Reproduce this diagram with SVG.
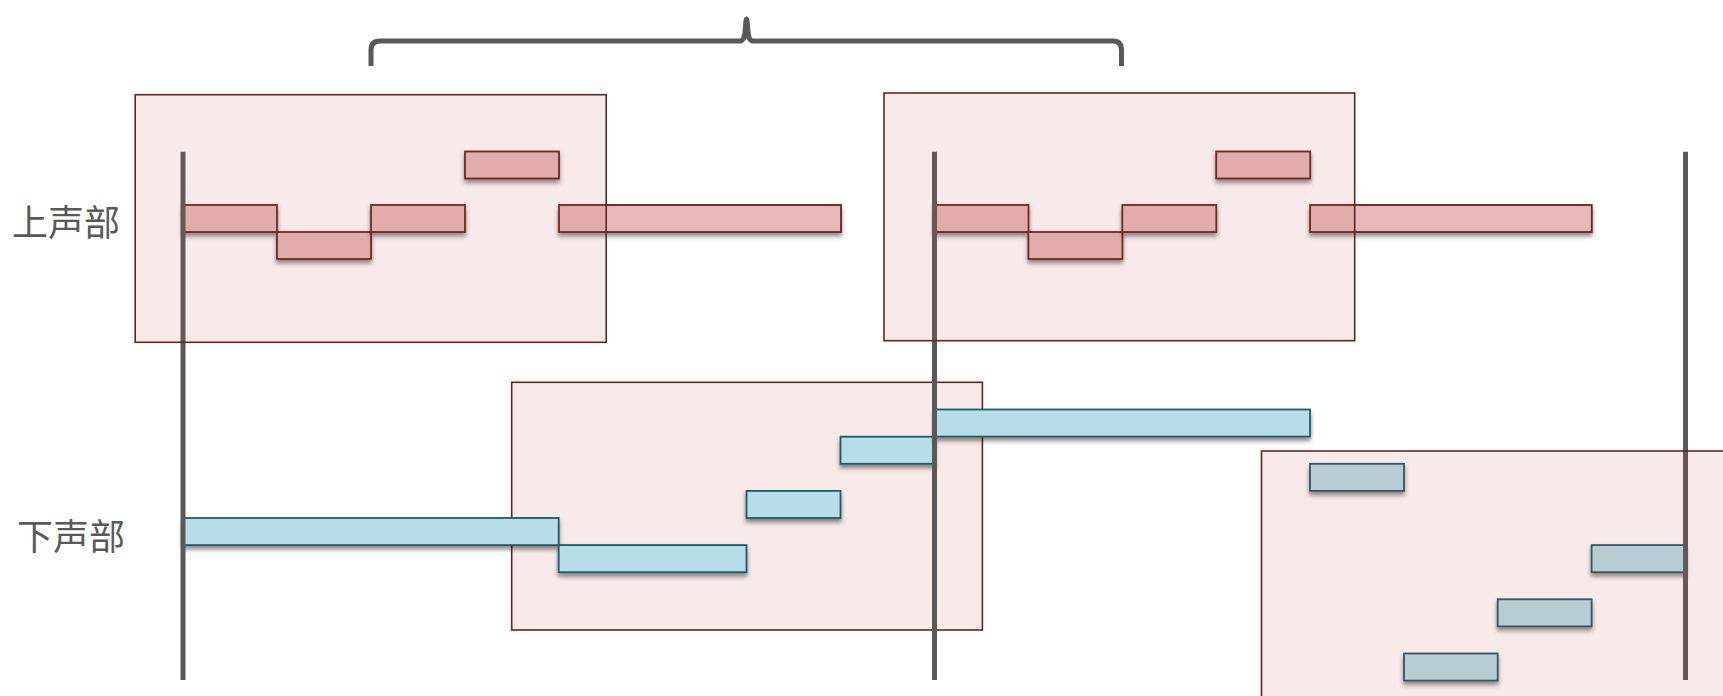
<svg xmlns="http://www.w3.org/2000/svg" width="1723" height="696" viewBox="0 0 1723 696">
<defs>
<filter id="sh" x="-10%" y="-30%" width="120%" height="190%">
<feDropShadow dx="0" dy="3.5" stdDeviation="2.2" flood-color="#000" flood-opacity="0.45"/>
</filter>
<style>
.box{fill:rgba(192,80,77,0.12);stroke:#632523;stroke-width:1.6}
.up{fill:#e6b9b8;stroke:#632523;stroke-width:1.8;filter:url(#sh)}
.lo{fill:#b7dee8;stroke:#215968;stroke-width:1.8;filter:url(#sh)}
.bar{stroke:#595959;stroke-width:5;fill:none}
.lbl{font-family:"Noto Sans CJK SC","Noto Sans",sans-serif;font-size:36px;fill:#595959}
</style>
</defs>
<rect width="1723" height="696" fill="#fff"/>

<g id="label-upper"><text class="lbl" x="12" y="236">上声部</text></g>
<g id="label-lower"><text class="lbl" x="17" y="550">下声部</text></g>

<g id="box3"><rect class="box" x="511.7" y="382.3" width="470.7" height="247.7"/></g>

<g id="upper-voice">
<rect class="up" x="183" y="205" width="94" height="27"/>
<rect class="up" x="277" y="232" width="94" height="27"/>
<rect class="up" x="371" y="205" width="94" height="27"/>
<rect class="up" x="465" y="151.5" width="94" height="27"/>
<rect class="up" x="559" y="205" width="282" height="27"/>
<rect class="up" x="934.5" y="205" width="94" height="27"/>
<rect class="up" x="1028.4" y="232" width="94" height="27"/>
<rect class="up" x="1122.3" y="205" width="94" height="27"/>
<rect class="up" x="1216.2" y="151.5" width="94" height="27"/>
<rect class="up" x="1310.1" y="205" width="281.7" height="27"/>
</g>

<g id="lower-voice">
<rect class="lo" x="183" y="518" width="375.7" height="27.1"/>
<rect class="lo" x="558.7" y="545.1" width="187.8" height="27.1"/>
<rect class="lo" x="746.5" y="490.9" width="94" height="27.1"/>
<rect class="lo" x="840.5" y="436.7" width="94" height="27.1"/>
<rect class="lo" x="934.5" y="409.5" width="375.5" height="27.1"/>
<rect class="lo" x="1310" y="463.8" width="94" height="27.1"/>
<rect class="lo" x="1404" y="653.5" width="93.7" height="27.1"/>
<rect class="lo" x="1497.7" y="599.3" width="93.9" height="27.1"/>
<rect class="lo" x="1591.6" y="545.1" width="93.9" height="27.1"/>
</g>

<g id="connectors">
<line class="bar" x1="183" y1="151.7" x2="183" y2="680"/>
<line class="bar" x1="934.5" y1="151.7" x2="934.5" y2="680"/>
<line class="bar" x1="1685.5" y1="151.7" x2="1685.5" y2="680"/>
<path class="bar" d="M371,66 V50 Q371,41 380,41 H740 C744,41 745,36 745.5,26 Q746.5,12 747.5,26 C748,36 749,41 753,41 H1113 Q1121.5,41 1121.5,50 V66"/>
</g>

<g id="box1"><rect class="box" x="135.2" y="94.7" width="471" height="247.6"/></g>
<g id="box2"><rect class="box" x="884" y="93" width="470.7" height="247.7"/></g>
<g id="box4"><rect class="box" x="1261.5" y="451" width="471" height="247.7"/></g>
</svg>
